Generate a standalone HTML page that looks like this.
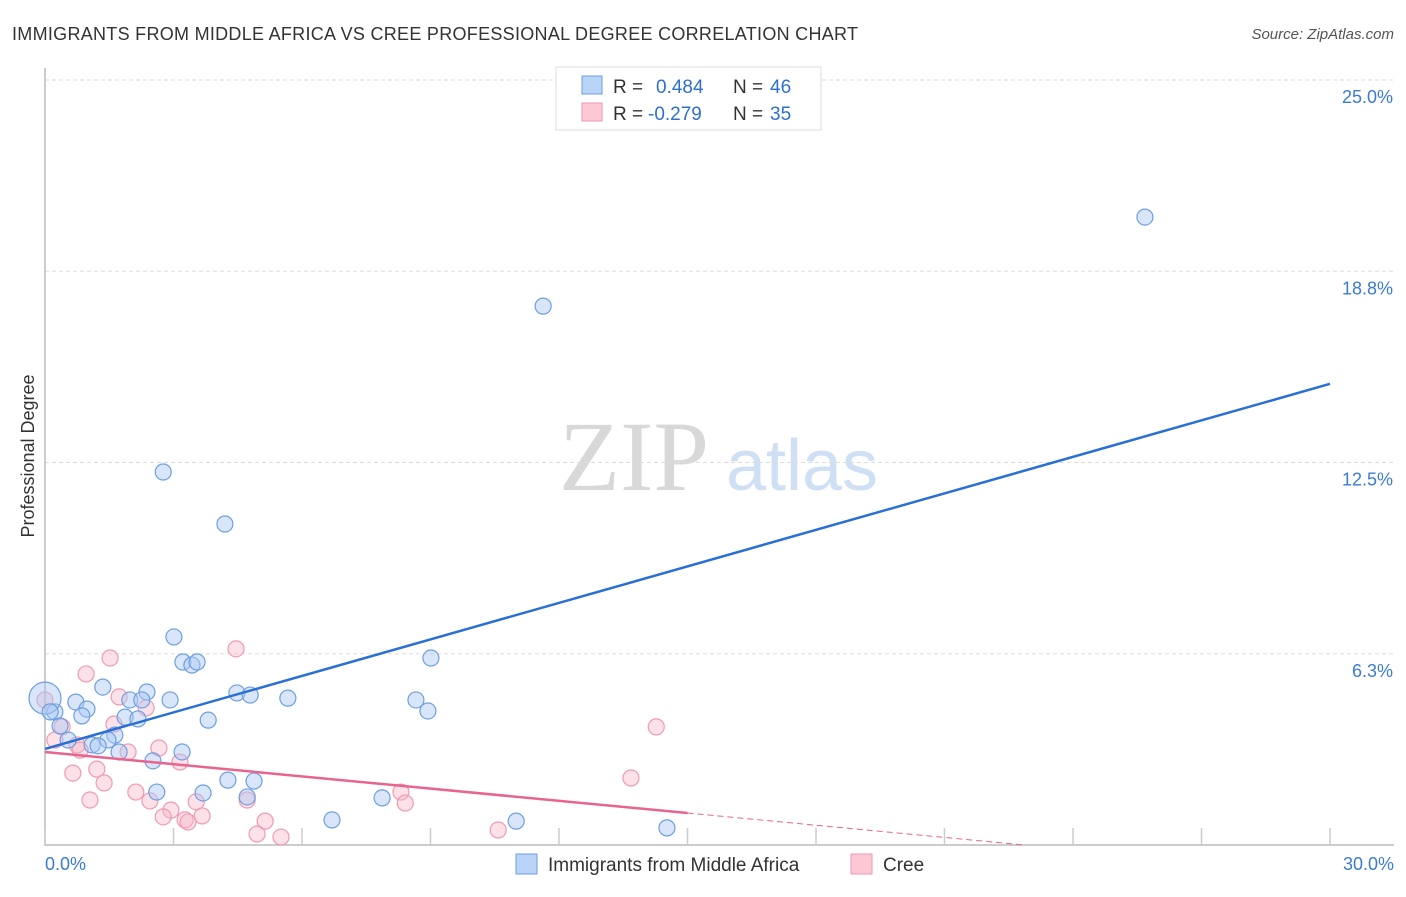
<!DOCTYPE html>
<html><head><meta charset="utf-8"><style>
body{margin:0;background:#fff;font-family:"Liberation Sans",sans-serif}
</style></head><body>
<svg id="c" width="1406" height="892" font-family="Liberation Sans, sans-serif" xmlns="http://www.w3.org/2000/svg">
<text x="12" y="40" font-size="18" fill="#333" textLength="846">IMMIGRANTS FROM MIDDLE AFRICA VS CREE PROFESSIONAL DEGREE CORRELATION CHART</text>
<text x="1394" y="39" font-size="15" fill="#555" font-style="italic" text-anchor="end">Source: ZipAtlas.com</text>
<text x="34" y="456" font-size="18" fill="#333" text-anchor="middle" transform="rotate(-90 34 456)">Professional Degree</text>
<g>
<text x="634" y="490" font-size="100" fill="#d8d8d8" style="font-family:'Liberation Serif',serif" text-anchor="middle">ZIP</text>
<text x="802" y="490" font-size="72" fill="#cfe0f5" text-anchor="middle">atlas</text>
</g>
<g id="grid"></g><g id="axes"></g><g id="pts"></g><g id="lines"></g>
<g>
<rect x="556" y="67" width="265" height="63" fill="#fff" stroke="#ddd"/>
<rect x="582" y="76" width="20" height="18" fill="#b9d4f7" stroke="#6d9fe0"/>
<rect x="582" y="103" width="20" height="18" fill="#fcc8d6" stroke="#ee97b0"/>
<text x="613" y="93" font-size="19" fill="#333">R =</text><text x="656" y="93" font-size="19" fill="#2e6fd0">0.484</text>
<text x="733" y="93" font-size="19" fill="#333">N =</text><text x="770" y="93" font-size="19" fill="#2e6fd0">46</text>
<text x="613" y="120" font-size="19" fill="#333">R =</text><text x="648" y="120" font-size="19" fill="#2e6fd0">-0.279</text>
<text x="733" y="120" font-size="19" fill="#333">N =</text><text x="770" y="120" font-size="19" fill="#2e6fd0">35</text>
</g>
<g>
<rect x="516" y="854" width="21" height="20" fill="#b9d4f7" stroke="#6d9fe0"/>
<text x="548" y="871" font-size="19" fill="#333">Immigrants from Middle Africa</text>
<rect x="851" y="854" width="21" height="20" fill="#fcc8d6" stroke="#ee97b0"/>
<text x="883" y="871" font-size="19" fill="#333">Cree</text>
</g>
</svg>
<script>
const yTicks=[25,18.75,12.5,6.25];
const yTickLabels=["25.0%","18.8%","12.5%","6.3%"];
const xTicks=[0,3,6,9,12,15,18,21,24,27,30];
const blueX=[25.68,11.63,2.76,4.20,3.01,3.22,3.43,3.55,9.01,1.35,2.38,4.48,4.79,5.67,2.92,1.98,2.26,0.72,0.98,8.66,8.94,0.23,0.86,1.87,2.17,3.81,0.35,1.63,1.47,0.54,1.10,1.24,1.73,3.20,2.52,4.27,4.88,3.69,2.61,4.72,7.87,6.70,11.00,14.52,0,0.12];
const blueY=[20.52,17.61,12.19,10.49,6.80,5.98,5.88,5.98,6.11,5.16,5.00,4.97,4.90,4.80,4.74,4.74,4.74,4.67,4.44,4.74,4.38,4.35,4.22,4.18,4.12,4.08,3.89,3.59,3.43,3.43,3.27,3.24,3.04,3.04,2.75,2.12,2.09,1.70,1.73,1.57,1.54,0.82,0.78,0.56,4.80,4.35];
const pinkX=[1.52,4.46,0.96,1.73,2.36,1.61,0.40,1.94,0.75,2.66,3.15,14.27,13.68,1.21,0.65,1.38,2.12,1.05,2.45,3.53,8.31,8.41,2.94,2.76,3.27,3.34,3.67,4.72,5.14,4.95,5.51,10.58,0,0.23,0.82];
const pinkY=[6.11,6.41,5.59,4.84,4.48,3.95,3.86,3.04,3.27,3.17,2.71,3.86,2.19,2.48,2.35,2.03,1.73,1.47,1.44,1.41,1.73,1.37,1.14,0.92,0.82,0.75,0.95,1.47,0.78,0.36,0.26,0.49,4.74,3.43,3.10];
const blueTrend=[3.14,15.07];
const pinkTrend=[3.04,-0.133];
const NS="http://www.w3.org/2000/svg";
const X=v=>45+v/30*1285, Y=v=>845-v/25*765;
function mk(t,a,p){const e=document.createElementNS(NS,t);for(const k in a)e.setAttribute(k,a[k]);p.appendChild(e);return e;}
const grid=document.getElementById('grid'),axes=document.getElementById('axes'),pts=document.getElementById('pts'),lines=document.getElementById('lines');
yTicks.forEach((v,i)=>{
 const l=mk('line',{x1:45,x2:1394,y1:Y(v),y2:Y(v),stroke:'#ddd','stroke-dasharray':'4 3'},grid);
 
 
 const t=mk('text',{x:1393,y:Y(v)+23,'font-size':18,fill:'#3a7bd5','text-anchor':'end'},grid);
 t.textContent=yTickLabels[i];
 
 
});
const ax=mk('path',{d:'M45 68V845H1394',fill:'none',stroke:'#bbb','stroke-width':1.5},axes);


xTicks.forEach(v=>{
 const l=mk('line',{x1:X(v),x2:X(v),y1:828,y2:845,stroke:'#ccc','stroke-width':1.5},axes);
 
 
});
[[0,'0.0%','start',45],[30,'30.0%','end',1394]].forEach(a=>{
 const t=mk('text',{x:a[3],y:870,'font-size':18,fill:'#3a7bd5','text-anchor':a[2]},axes);
 t.textContent=a[1];
 
 
});
pinkX.forEach((x,i)=>{
 const c=mk('circle',{cx:X(x),cy:Y(pinkY[i]),r:8,fill:'rgba(248,180,200,0.4)',stroke:'#ef9ab3','stroke-width':1.2},pts);
 
 
});
blueX.forEach((x,i)=>{
 const c=mk('circle',{cx:X(x),cy:Y(blueY[i]),r:(i==44?16:8),fill:'rgba(170,200,245,0.45)',stroke:'#6d9fe0','stroke-width':1.2},pts);
 
 
});
const bl=mk('line',{x1:X(0),y1:Y(blueTrend[0]),x2:X(30),y2:Y(blueTrend[1]),stroke:'#2a6fd6','stroke-width':2.5},lines);


const pe=15, pz=-pinkTrend[0]/pinkTrend[1];
const pl=mk('line',{x1:X(0),y1:Y(pinkTrend[0]),x2:X(pe),y2:Y(pinkTrend[0]+pinkTrend[1]*pe),stroke:'#e8648f','stroke-width':2.5},lines);


const pd=mk('line',{x1:X(pe),y1:Y(pinkTrend[0]+pinkTrend[1]*pe),x2:X(pz),y2:Y(0),stroke:'#e8648f','stroke-width':1,'stroke-dasharray':'6 4'},lines);


</script>
</body></html>
